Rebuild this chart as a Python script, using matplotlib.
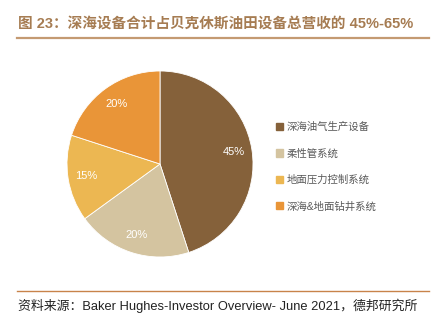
import matplotlib.pyplot as plt
from matplotlib.lines import Line2D

plt.rcParams['font.family'] = ['Liberation Sans', 'Noto Sans CJK SC', 'DejaVu Sans']

categories = ['深海油气生产设备', '柔性管系统', '地面压力控制系统', '深海&地面钻井系统']
shares = [45, 20, 15, 20]
colors = ['#85613A', '#D4C4A0', '#ECB752', '#E99538']

W, H = 443, 322
fig = plt.figure(figsize=(W / 100, H / 100), dpi=100)

# title + rule
fig.text(18 / W, 1 - 24 / H, '图 23：深海设备合计占贝克休斯油田设备总营收的 45%-65%',
         fontsize=10.5, fontweight='bold', color='#A67C52', va='center', ha='left')
fig.add_artist(Line2D([17 / W, 429 / W], [1 - 37.5 / H] * 2, color='#C49A72', lw=1.6))

# pie
cx, cy, r = 160, 164, 93
ax = fig.add_axes([(cx - r) / W, 1 - (cy + r) / H, 2 * r / W, 2 * r / H])
wedges, _, autotexts = ax.pie(shares, colors=colors, startangle=90, counterclock=False,
                              autopct='%d%%', pctdistance=0.8,
                              wedgeprops=dict(edgecolor='white', linewidth=0.6),
                              textprops=dict(color='white', fontsize=8))
ax.set_xlim(-1, 1)
ax.set_ylim(-1, 1)
ax.axis('off')

# legend
handles = [plt.Rectangle((0, 0), 1, 1, color=c) for c in colors]
fig.legend(handles, categories, loc='upper left', bbox_to_anchor=(272 / W, 1 - 118 / H),
           frameon=False, fontsize=7.5, labelcolor='#595959', handlelength=0.7,
           handleheight=0.7, handletextpad=0.3, labelspacing=1.55, borderaxespad=0)

# source + rule
fig.add_artist(Line2D([17 / W, 429 / W], [1 - 290.5 / H] * 2, color='#C8834A', lw=1.0))
fig.text(18 / W, 1 - 306 / H, '资料来源：Baker Hughes-Investor Overview- June 2021，德邦研究所',
         fontsize=9.3, color='#222222', va='center', ha='left')

fig.savefig('out.png', dpi=100)
